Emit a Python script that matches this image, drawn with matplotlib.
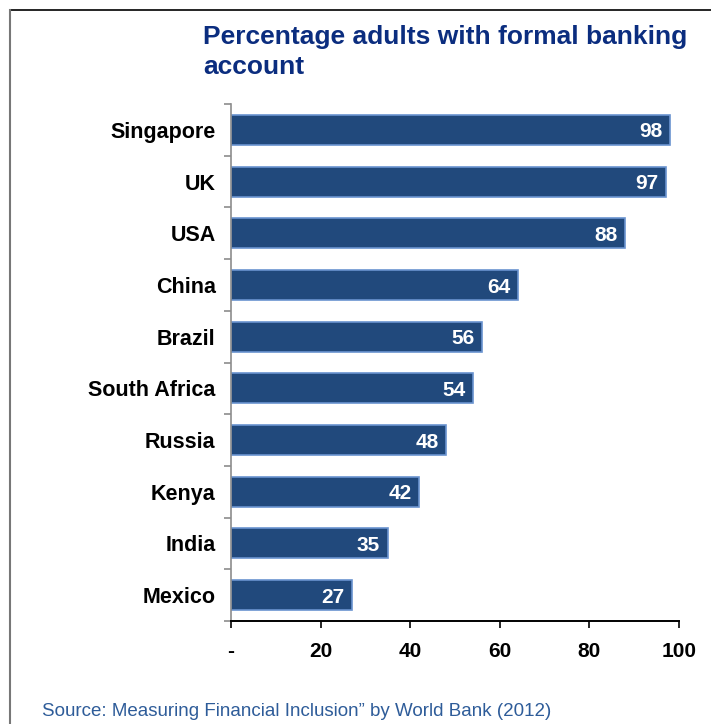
import matplotlib
matplotlib.use("Agg")
import matplotlib.pyplot as plt
from matplotlib.lines import Line2D

countries = ["Singapore", "UK", "USA", "China", "Brazil", "South Africa",
             "Russia", "Kenya", "India", "Mexico"]
values = [98, 97, 88, 64, 56, 54, 48, 42, 35, 27]
xticks = [0, 20, 40, 60, 80, 100]
xticklabels = ["-", "20", "40", "60", "80", "100"]
title = "Percentage adults with formal banking\naccount"
source = "Source: Measuring Financial Inclusion\u201d by World Bank (2012)"

plt.rcParams['font.family'] = ['Liberation Sans', 'DejaVu Sans']

fig = plt.figure(figsize=(7.11, 7.24), dpi=100)
ax = fig.add_axes([231/711, 103/724, 448/711, 517/724])

ypos = list(range(len(countries)))[::-1]
ax.barh(ypos, values, height=0.58, color="#21497C", edgecolor="#6A93CF",
        linewidth=1.2, zorder=2)
for y, v in zip(ypos, values):
    ax.text(v - 1.7, y - 0.04, str(v), ha="right", va="center", color="white",
            fontsize=15, fontweight="bold", zorder=3)

ax.set_xlim(0, 100)
ax.set_ylim(-0.5, len(countries) - 0.5)
ax.set_xticks(xticks)
ax.set_xticklabels(xticklabels, fontsize=15, fontweight="bold")
ax.set_yticks(ypos)
ax.set_yticklabels(countries, fontsize=15.5, fontweight="bold")
ax.set_yticks([i - 0.5 for i in range(len(countries) + 1)], minor=True)
ax.tick_params(axis="y", which="major", length=0, pad=11)
ax.tick_params(axis="y", which="minor", length=5, color="#8c8c8c", width=1.2)
ax.tick_params(axis="x", length=5, width=1.2, color="black", pad=10)

for s in ["top", "right"]:
    ax.spines[s].set_visible(False)
ax.spines["left"].set_color("#8c8c8c")
ax.spines["left"].set_linewidth(1.2)
ax.spines["bottom"].set_color("black")
ax.spines["bottom"].set_linewidth(1.4)

fig.text(203/711, 1 - 52/724, title, ha="left", va="center",
         fontsize=19, fontweight="bold", color="#0B2D7F", linespacing=1.32)
fig.text(42/711, 1 - 711/724, source, ha="left", va="center",
         fontsize=13.5, color="#2E5C99")

fig.add_artist(Line2D([10/711, 1], [1 - 9.5/724] * 2, transform=fig.transFigure,
                      color="black", linewidth=1.2))
fig.add_artist(Line2D([10/711] * 2, [0, 1 - 9.5/724], transform=fig.transFigure,
                      color="#777777", linewidth=1.5))

fig.savefig("out.png", dpi=100)
